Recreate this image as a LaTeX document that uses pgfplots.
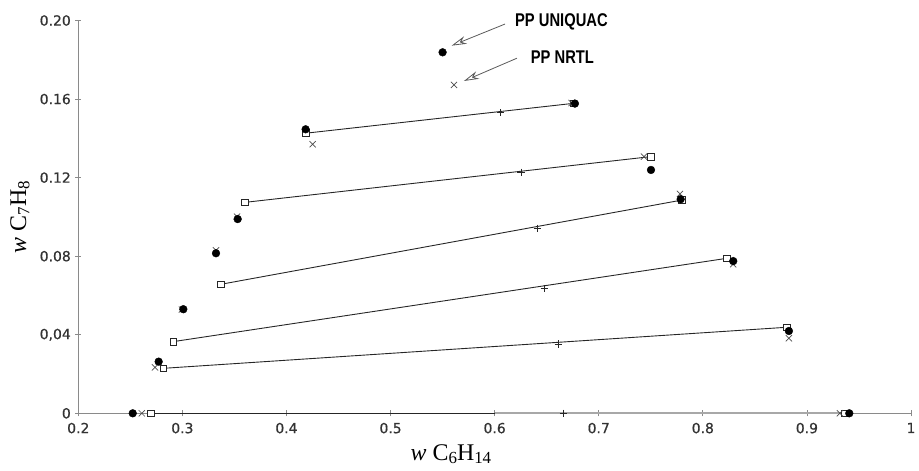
\documentclass[border=0pt]{standalone}
\usepackage{pgfplots}
\pgfplotsset{compat=1.18}
\usepackage{fontspec}
\setmainfont{Liberation Serif}
\newfontfamily\dejavu[FakeBold=0.6]{DejaVu Sans}
\newfontfamily\narrow[FakeStretch=0.80]{Liberation Sans}
\usetikzlibrary{arrows.meta}
\definecolor{axgray}{HTML}{8A8A8A}
\definecolor{tiegray}{HTML}{A8A8A8}
\tikzset{
  tie/.style={black!85, line width=0.9pt, mark=square*, mark size=3.4pt,
              mark options={fill=white, draw=black!85, line width=0.7pt}},
  feed/.style={only marks, mark=+, mark size=3.6pt, mark options={black!85, line width=0.7pt}},
  uniq/.style={only marks, mark=*, mark size=3.9pt, mark options={fill=black, draw=black}},
  nrtl/.style={only marks, mark=x, mark size=4.4pt, mark options={black!70, line width=0.7pt}},
  note/.style={-{Stealth[open, length=15pt, width=8pt, line width=0.8pt]}, black!65, line width=0.8pt},
}
\begin{document}
\begin{tikzpicture}
\useasboundingbox (-78.3bp,-57.7bp) rectangle (840.7bp,413.3bp);
\begin{axis}[
  at={(0,0)}, anchor=south west,
  scale only axis, width=832.7bp, height=392.8bp,
  xmin=0.2, xmax=1, ymin=0, ymax=0.2,
  axis x line=bottom, axis y line=left,
  axis line style={-, axgray, line width=0.7pt},
  clip=false,
  xtick={0.2,0.3,...,1.0},
  xticklabels={0.2,0.3,0.4,0.5,0.6,0.7,0.8,0.9,1},
  ytick={0,0.04,0.08,0.12,0.16,0.20},
  yticklabels={0,{0,04},0.08,0.12,0.16,0.20},
  tick align=center, major tick length=6bp,
  tick style={axgray, line width=0.7pt},
  tick label style={font=\dejavu\fontsize{14}{16}\selectfont, text=black!80},
  xticklabel style={yshift=-3bp},
  yticklabel style={xshift=-1bp},
]
% tie line at y = 0
\addplot[black!85, line width=1pt] coordinates {(0.2695,0) (0.600,0)};
\addplot[tiegray, line width=2pt] coordinates {(0.600,0) (0.9365,0)};
\addplot[only marks, mark=square*, mark size=3.4pt, mark options={fill=white, draw=black!85, line width=0.7pt}]
  coordinates {(0.2695,0) (0.9365,0)};
% experimental tie lines
\addplot[tie] coordinates {(0.2817,0.0229) (0.8805,0.0438)};
\addplot[tie] coordinates {(0.2913,0.0365) (0.8229,0.0789)};
\addplot[tie] coordinates {(0.3371,0.0657) (0.7802,0.1086)};
\addplot[tie] coordinates {(0.3601,0.1074) (0.7502,0.1307)};
\addplot[tie] coordinates {(0.4184,0.1426) (0.6755,0.1578)};
% feed points
\addplot[feed] coordinates {
  (0.666,0) (0.6611,0.0353) (0.6477,0.0636) (0.6409,0.0942) (0.6253,0.1227) (0.6058,0.1531)};
% NRTL
\addplot[nrtl] coordinates {
  (0.2610,0) (0.9317,0)
  (0.2737,0.0234) (0.8827,0.0382)
  (0.2995,0.0528) (0.8292,0.0759)
  (0.3323,0.0830) (0.7780,0.1117)
  (0.3525,0.1001) (0.7434,0.1307)
  (0.4252,0.1370) (0.6740,0.1580)
  (0.5609,0.1672)};
% UNIQUAC
\addplot[uniq] coordinates {
  (0.2523,0) (0.9407,0)
  (0.2772,0.0263) (0.8827,0.0419)
  (0.3009,0.0530) (0.8292,0.0775)
  (0.3323,0.0815) (0.7787,0.1090)
  (0.3531,0.0989) (0.7502,0.1239)
  (0.4184,0.1446) (0.6771,0.1577)
  (0.5500,0.1838)};
% annotations
\draw[note] (axis cs:0.610,0.1982) -- (axis cs:0.5587,0.1872);
\draw[note] (axis cs:0.6214,0.1808) -- (axis cs:0.5705,0.1692);
\node[anchor=west, font=\narrow\bfseries\fontsize{18.5}{20}\selectfont, inner sep=0pt]
  at (axis cs:0.6195,0.1994) {PP UNIQUAC};
\node[anchor=west, font=\narrow\bfseries\fontsize{18.5}{20}\selectfont, inner sep=0pt]
  at (axis cs:0.6346,0.1814) {PP NRTL};
% axis labels
\node[font=\fontsize{24}{26}\selectfont] at (axis cs:0.558,-0.0207)
  {\textit{w} C\raisebox{-0.3ex}{\fontsize{17}{18}\selectfont 6}H\raisebox{-0.3ex}{\fontsize{17}{18}\selectfont 14}};
\node[font=\fontsize{24}{26}\selectfont, rotate=90] at (axis cs:0.144,0.0999)
  {\textit{w} C\raisebox{-0.3ex}{\fontsize{17}{18}\selectfont 7}H\raisebox{-0.3ex}{\fontsize{17}{18}\selectfont 8}};
\end{axis}
\end{tikzpicture}
\end{document}
